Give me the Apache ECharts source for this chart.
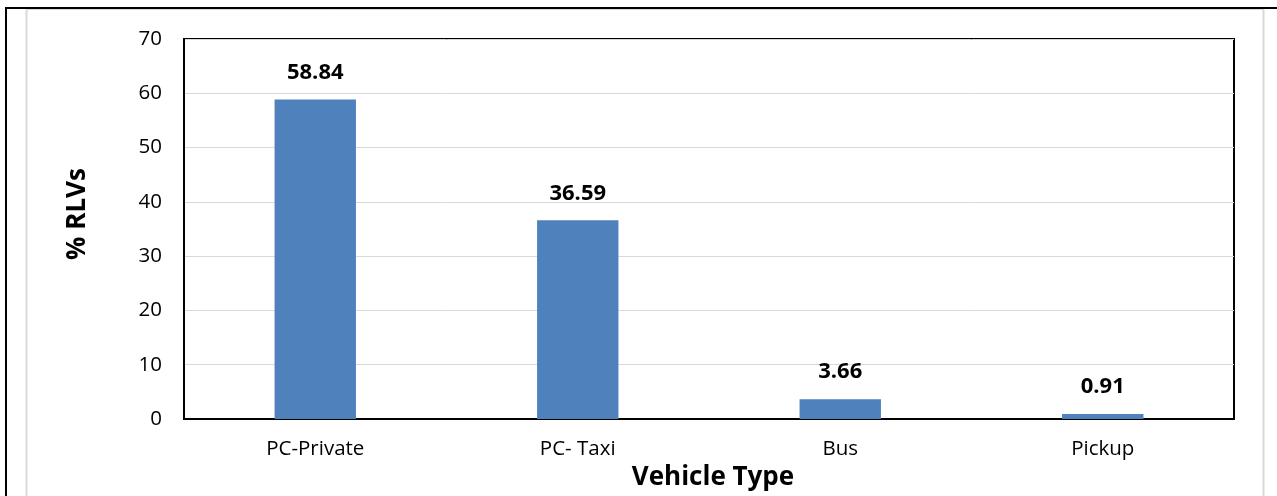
<!DOCTYPE html>
<html>
<head>
<meta charset="utf-8">
<script src="https://cdn.jsdelivr.net/npm/echarts@6/dist/echarts.min.js"></script>
<style>
  html, body { margin: 0; padding: 0; background: #fff; }
  #chart { width: 1277px; height: 496px; }
</style>
</head>
<body>
<div id="chart"></div>
<script>
// Share of RLVs by vehicle type
const categories = ['PC-Private', 'PC- Taxi', 'Bus', 'Pickup'];
const shareValues = [58.84, 36.59, 3.66, 0.91];
const yTicks = [0, 10, 20, 30, 40, 50, 60, 70];

const FONT = '"Open Sans", sans-serif';
const chart = echarts.init(document.getElementById('chart'), null, { renderer: 'canvas' });

chart.setOption({
  animation: false,
  backgroundColor: '#ffffff',
  grid: { left: 184, right: 43, top: 39, bottom: 76, containLabel: false,
          show: true, borderColor: '#000', borderWidth: 2 },
  graphic: [
    // page frame lines
    { type: 'line', shape: { x1: 5, y1: 8, x2: 1277, y2: 8 }, style: { stroke: '#000', lineWidth: 2 } },
    { type: 'line', shape: { x1: 6, y1: 8, x2: 6, y2: 496 }, style: { stroke: '#000', lineWidth: 2 } },
    // chart area border
    { type: 'line', shape: { x1: 26.5, y1: 9.5, x2: 1263.5, y2: 9.5 }, style: { stroke: '#d9d9d9', lineWidth: 1 } },
    { type: 'line', shape: { x1: 26.5, y1: 9.5, x2: 26.5, y2: 496 }, style: { stroke: '#d9d9d9', lineWidth: 2 } },
    { type: 'line', shape: { x1: 1263.5, y1: 9.5, x2: 1263.5, y2: 496 }, style: { stroke: '#d9d9d9', lineWidth: 2 } }
  ],
  xAxis: {
    type: 'category',
    data: categories,
    name: 'Vehicle Type',
    nameLocation: 'middle',
    nameGap: 46,
    nameTextStyle: { fontFamily: FONT, fontWeight: 'bold', fontSize: 26, color: '#000', padding: [0, 0, 0, 8] },
    axisLine: { show: true, lineStyle: { color: '#000', width: 2 } },
    axisTick: { show: false },
    axisLabel: { fontFamily: FONT, fontSize: 20.5, color: '#000', margin: 20 }
  },
  yAxis: {
    type: 'value',
    min: yTicks[0],
    max: yTicks[yTicks.length - 1],
    interval: 10,
    name: '% RLVs',
    nameLocation: 'middle',
    nameGap: 93,
    nameRotate: 90,
    nameTextStyle: { fontFamily: FONT, fontWeight: 'bold', fontSize: 26, color: '#000', padding: [0, 0, 0, 30] },
    axisLine: { show: true, lineStyle: { color: '#000', width: 2 } },
    axisTick: { show: false },
    axisLabel: { fontFamily: FONT, fontSize: 20.5, color: '#000', margin: 22 },
    splitLine: { show: true, lineStyle: { color: '#d9d9d9', width: 1 } }
  },
  series: [{
    type: 'bar',
    data: shareValues,
    barWidth: '31%',
    itemStyle: { color: '#4f81bd' },
    label: {
      show: true,
      position: 'top',
      distance: 16,
      formatter: p => p.value.toFixed(2),
      fontFamily: FONT,
      fontWeight: 'bold',
      fontSize: 22,
      color: '#000'
    }
  }]
});
</script>
</body>
</html>
